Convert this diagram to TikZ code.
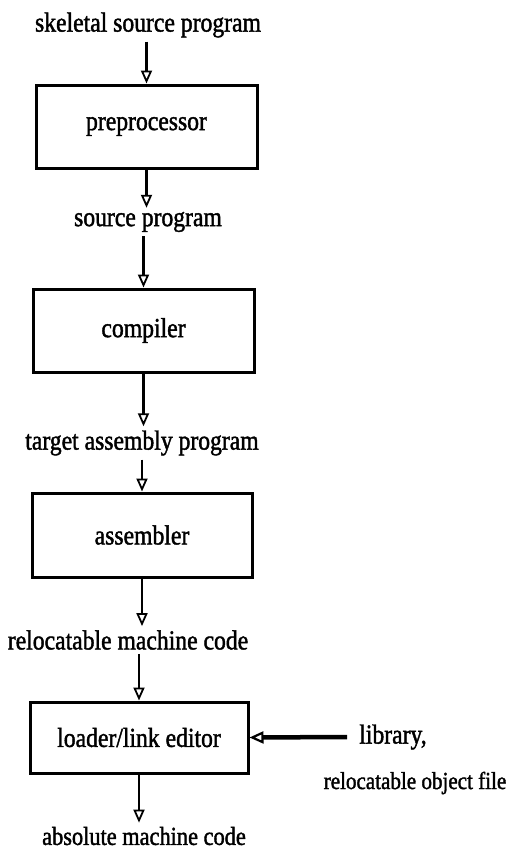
\documentclass[tikz,border=0pt]{standalone}
\usepackage{fontspec}
\setmainfont[FakeStretch=0.86,FakeBold=1.5]{Liberation Serif}
\usetikzlibrary{arrows.meta}

\tikzset{
  label/.style={inner sep=4pt, font=\fontsize{27.5}{30}\selectfont},
  stage/.style={draw, line width=3pt, inner sep=0pt, font=\fontsize{27.5}{30}\selectfont},
  arr/.style={line width=2.2pt, -{Triangle[open,length=13pt,width=11pt,line width=1.8pt]}},
  thickarr/.style={line width=4.5pt, -{Triangle[open,length=14pt,width=12pt,line width=2.2pt]}}
}

\begin{document}
\begin{tikzpicture}[x=1pt, y=-1pt]
\useasboundingbox (0,0) rectangle (511,854);

\node[label] (skel) at (148,25) {skeletal source program};
\node[stage, minimum width=221pt, minimum height=83pt] (pre) at (146.5,126.5) {preprocessor};
\node[label] (src) at (148,222) {source program};
\node[stage, minimum width=221pt, minimum height=83pt] (comp) at (143.5,330.5) {compiler};
\node[label] (tgt) at (142,443) {target assembly program};
\node[stage, minimum width=220pt, minimum height=84pt] (asm) at (142,535) {assembler};
\node[label] (reloc) at (128,640) {relocatable machine code};
\node[stage, minimum width=218pt, minimum height=71pt] (ldr) at (139,737.5) {loader/link editor};
\node[label, font=\fontsize{26}{28}\selectfont] (abs) at (144,836) {absolute machine code};
\node[label] (lib) at (393,737) {library,};
\node[label, inner sep=1pt, font=\fontsize{24.5}{27}\selectfont] (obj) at (415,783) {relocatable object file};

% main flow
\draw[arr] (skel.south -| pre.north) -- (pre.north);
\draw[arr] (pre.south) -- (pre.south |- src.north);
\draw[arr] (src.south -| comp.north) -- (comp.north);
\draw[arr] (comp.south) -- (comp.south |- tgt.north);
\draw[arr] (tgt.south -| asm.north) -- (asm.north);
\draw[arr] (asm.south) -- (asm.south |- reloc.north);
\draw[arr] (reloc.south -| ldr.north) -- (ldr.north);
\draw[arr] (ldr.south) -- (ldr.south |- abs.north);

% library input
\draw[thickarr] (lib.west) ++(-8,0) -- (ldr.east);
\end{tikzpicture}
\end{document}
